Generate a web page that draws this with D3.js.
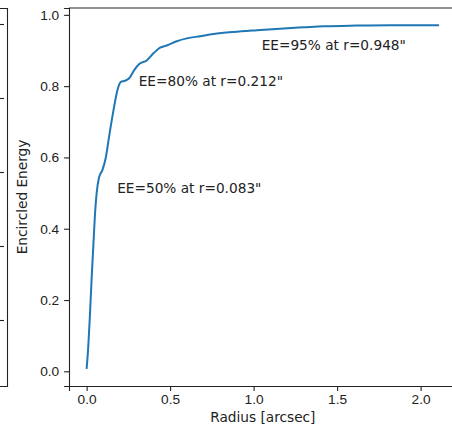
<!DOCTYPE html>
<html>
<head>
<meta charset="utf-8">
<script src="https://cdn.jsdelivr.net/npm/d3@7"></script>
<style>
  body { margin: 0; background: #fff; }
  svg { display: block; font-family: "DejaVu Sans", sans-serif; }
  .axis text { font-size: 13.7px; fill: #222; }
  .axis path, .axis line { stroke: #222; stroke-width: 1.1; }
  .label { font-size: 13.7px; fill: #222; }
</style>
</head>
<body>
<div id="chart"></div>
<script>
// encircled energy curve
const radius = [0.000, 0.010, 0.020, 0.030, 0.040, 0.050, 0.060, 0.075, 0.095, 0.115,
    0.135, 0.160, 0.185, 0.205, 0.230, 0.255, 0.285, 0.315, 0.360, 0.400,
    0.440, 0.480, 0.540, 0.600, 0.680, 0.760, 0.880, 1.020, 1.180, 1.300,
    1.420, 1.620, 1.820, 2.110];
const energy = [0.007, 0.070, 0.160, 0.260, 0.350, 0.440, 0.500, 0.545, 0.565, 0.600,
    0.660, 0.730, 0.790, 0.812, 0.815, 0.822, 0.845, 0.862, 0.872, 0.892,
    0.908, 0.914, 0.926, 0.934, 0.940, 0.946, 0.952, 0.957, 0.962, 0.965,
    0.968, 0.970, 0.971, 0.971];

// annotations: text, x position, y position (data units)
const noteText = ['EE=50% at r=0.083"', 'EE=80% at r=0.212"', 'EE=95% at r=0.948"'];
const noteX = [0.183, 0.312, 1.048];
const noteY = [0.5, 0.8, 0.9];

const xTicks = [0, 0.5, 1.0, 1.5, 2.0];
const yTicks = [0, 0.2, 0.4, 0.6, 0.8, 1.0];

// ticks of the neighbouring panel cut off at the left edge
const sideTicks = [24, 98, 172, 246, 320];

const data = radius.map((r, i) => ({ r: r, ee: energy[i] }));

const width = 452, height = 427;
const margin = { top: 8, bottom: 41, left: 69 };
const pxPerX = 167; // pixels per arcsec

// matplotlib-like 5% padding around the data
const xExt = d3.extent(radius), yExt = d3.extent(energy);
const xPad = (xExt[1] - xExt[0]) * 0.05, yPad = (yExt[1] - yExt[0]) * 0.05;
const xDom = [xExt[0] - xPad, xExt[1] + xPad];
const yDom = [yExt[0] - yPad, yExt[1] + yPad];

const xScale = d3.scaleLinear()
    .domain(xDom)
    .range([margin.left, margin.left + (xDom[1] - xDom[0]) * pxPerX]);

const yScale = d3.scaleLinear()
    .domain(yDom)
    .range([height - margin.bottom, margin.top]);

const svg = d3.select("#chart")
    .append("svg")
    .attr("width", width)
    .attr("height", height);

// partial panel on the left
const side = svg.append("g").attr("stroke", "#222").attr("stroke-width", 1.1).attr("fill", "none");
side.append("path")
    .attr("d", `M0,${margin.top + 0.5}H7.5V${height - margin.bottom + 0.5}H0`);
side.selectAll("line")
    .data(sideTicks)
    .join("line")
    .attr("x1", 0).attr("x2", 4)
    .attr("y1", d => d + 0.5).attr("y2", d => d + 0.5);

// the curve
svg.append("path")
    .datum(data)
    .attr("fill", "none")
    .attr("stroke", "#1f77b4")
    .attr("stroke-width", 2)
    .attr("stroke-linejoin", "round")
    .attr("d", d3.line()
        .x(d => xScale(d.r))
        .y(d => yScale(d.ee))
        .curve(d3.curveMonotoneX));

// axes
const xAxis = d3.axisBottom(xScale)
    .tickValues(xTicks)
    .tickFormat(d3.format(".1f"))
    .tickSizeOuter(0)
    .tickSize(4.9)
    .tickPadding(3);

const yAxis = d3.axisLeft(yScale)
    .tickValues(yTicks)
    .tickFormat(d3.format(".1f"))
    .tickSizeOuter(0)
    .tickSize(4.9)
    .tickPadding(4.9);

svg.append("g")
    .attr("class", "axis")
    .attr("transform", `translate(0,${yScale.range()[0]})`)
    .call(xAxis);

svg.append("g")
    .attr("class", "axis")
    .attr("transform", `translate(${xScale.range()[0]},0)`)
    .call(yAxis);

// top spine (the right one falls outside the picture)
svg.append("path")
    .attr("fill", "none")
    .attr("stroke", "#222")
    .attr("stroke-width", 1.1)
    .attr("d", `M${xScale.range()[0]},${yScale.range()[1]}H${width}`);

// annotations
svg.selectAll("text.note")
    .data(noteText)
    .join("text")
    .attr("class", "label note")
    .attr("x", (d, i) => xScale(noteX[i]))
    .attr("y", (d, i) => yScale(noteY[i]))
    .text(d => d);

// axis titles
svg.append("text")
    .attr("class", "label")
    .attr("text-anchor", "middle")
    .attr("transform", `translate(27,${(yScale.range()[0] + yScale.range()[1]) / 2}) rotate(-90)`)
    .text("Encircled Energy");

svg.append("text")
    .attr("class", "label")
    .attr("text-anchor", "middle")
    .attr("x", (xScale.range()[0] + xScale.range()[1]) / 2)
    .attr("y", 422)
    .text("Radius [arcsec]");
</script>
</body>
</html>
